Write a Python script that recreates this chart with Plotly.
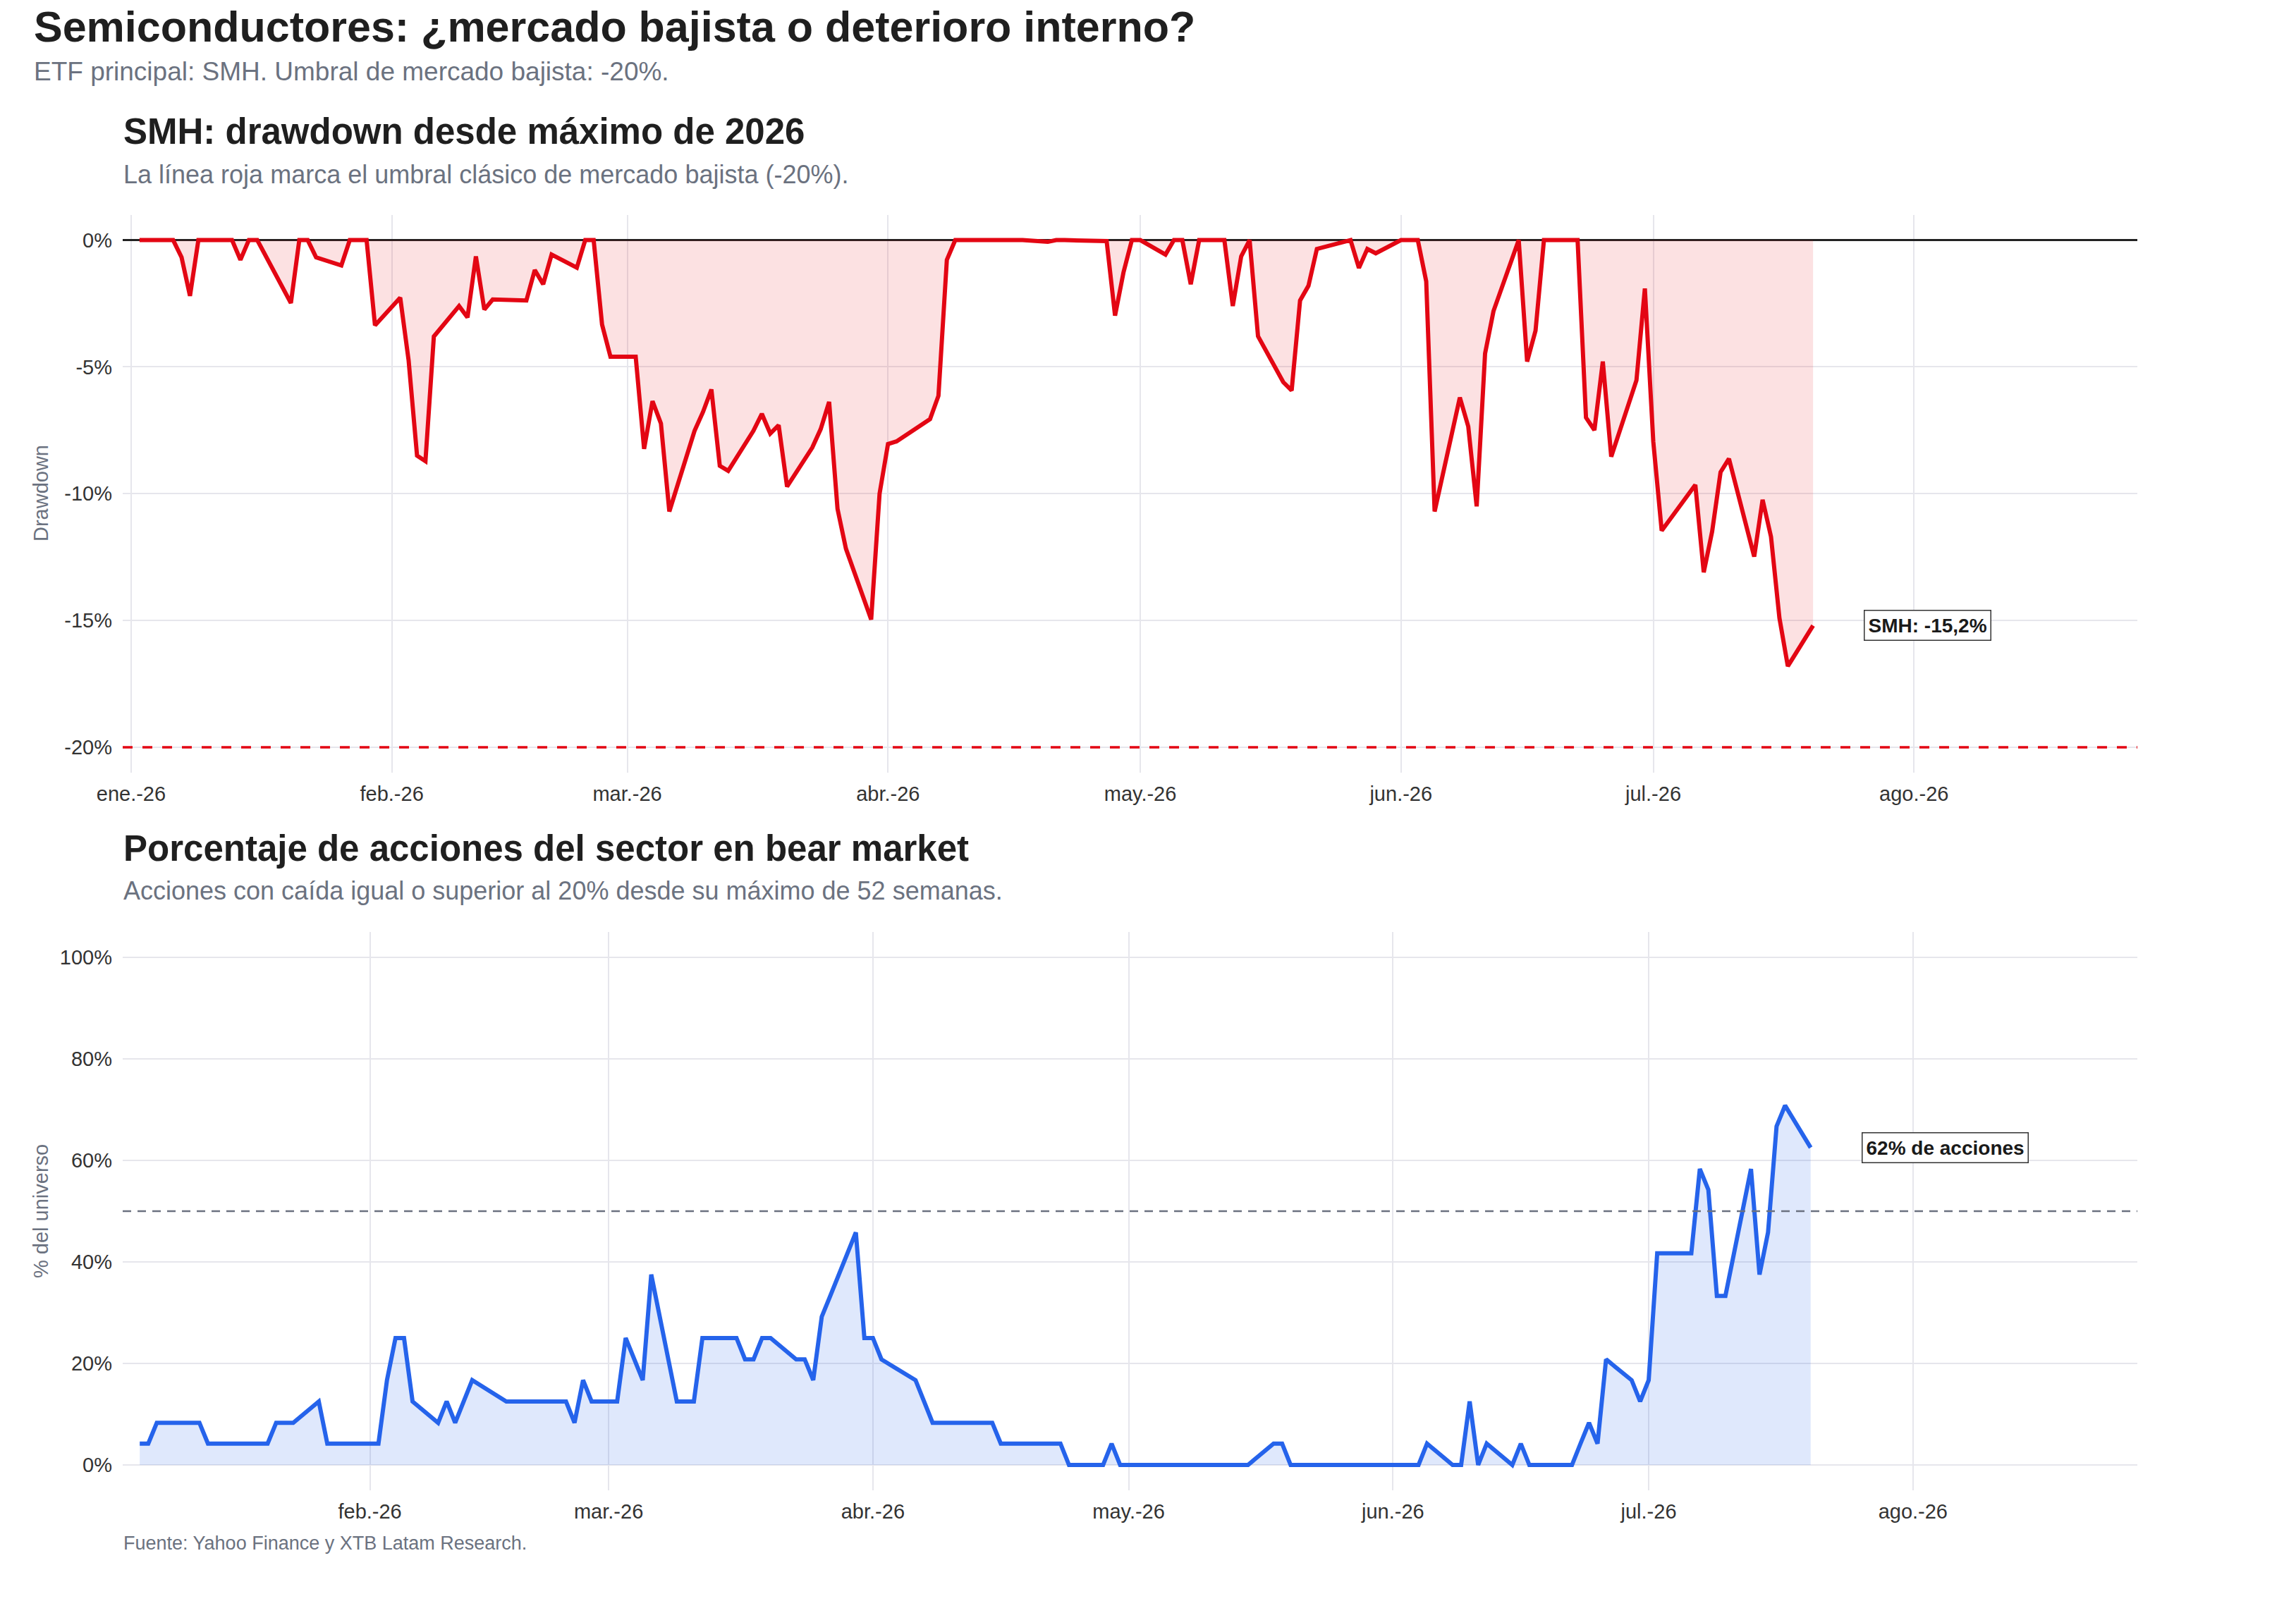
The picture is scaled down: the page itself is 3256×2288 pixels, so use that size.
import plotly.graph_objects as go

# ---------------- data ----------------
smh_dates = [
    "2026-01-02", "2026-01-05", "2026-01-06", "2026-01-07", "2026-01-08", "2026-01-09",
    "2026-01-12", "2026-01-13", "2026-01-14", "2026-01-15", "2026-01-16", "2026-01-20",
    "2026-01-21", "2026-01-22", "2026-01-23", "2026-01-26", "2026-01-27", "2026-01-28",
    "2026-01-29", "2026-01-30", "2026-02-02", "2026-02-03", "2026-02-04", "2026-02-05",
    "2026-02-06", "2026-02-09", "2026-02-10", "2026-02-11", "2026-02-12", "2026-02-13",
    "2026-02-17", "2026-02-18", "2026-02-19", "2026-02-20", "2026-02-23", "2026-02-24",
    "2026-02-25", "2026-02-26", "2026-02-27", "2026-03-02", "2026-03-03", "2026-03-04",
    "2026-03-05", "2026-03-06", "2026-03-09", "2026-03-10", "2026-03-11", "2026-03-12",
    "2026-03-13", "2026-03-16", "2026-03-17", "2026-03-18", "2026-03-19", "2026-03-20",
    "2026-03-23", "2026-03-24", "2026-03-25", "2026-03-26", "2026-03-27", "2026-03-30",
    "2026-03-31", "2026-04-01", "2026-04-02", "2026-04-06", "2026-04-07", "2026-04-08",
    "2026-04-09", "2026-04-10", "2026-04-13", "2026-04-14", "2026-04-15", "2026-04-16",
    "2026-04-17", "2026-04-20", "2026-04-21", "2026-04-22", "2026-04-23", "2026-04-24",
    "2026-04-27", "2026-04-28", "2026-04-29", "2026-04-30", "2026-05-01", "2026-05-04",
    "2026-05-05", "2026-05-06", "2026-05-07", "2026-05-08", "2026-05-11", "2026-05-12",
    "2026-05-13", "2026-05-14", "2026-05-15", "2026-05-18", "2026-05-19", "2026-05-20",
    "2026-05-21", "2026-05-22", "2026-05-26", "2026-05-27", "2026-05-28", "2026-05-29",
    "2026-06-01", "2026-06-02", "2026-06-03", "2026-06-04", "2026-06-05", "2026-06-08",
    "2026-06-09", "2026-06-10", "2026-06-11", "2026-06-12", "2026-06-15", "2026-06-16",
    "2026-06-17", "2026-06-18", "2026-06-22", "2026-06-23", "2026-06-24", "2026-06-25",
    "2026-06-26", "2026-06-29", "2026-06-30", "2026-07-01", "2026-07-02", "2026-07-06",
    "2026-07-07", "2026-07-08", "2026-07-09", "2026-07-10", "2026-07-13", "2026-07-14",
    "2026-07-15", "2026-07-16", "2026-07-17", "2026-07-20",
]
smh_drawdown = [
    0.0, 0.0, 0.0, -0.68, -2.2, 0.0,
    0.0, 0.0, -0.78, 0.0, 0.0, -2.48,
    0.0, 0.0, -0.68, -1.0, 0.0, 0.0,
    0.0, -3.36, -2.27, -4.75, -8.5, -8.72,
    -3.8, -2.6, -3.05, -0.64, -2.74, -2.34,
    -2.38, -1.18, -1.74, -0.57, -1.09, 0.0,
    0.0, -3.33, -4.6, -4.6, -8.23, -6.35,
    -7.23, -10.7, -7.52, -6.78, -5.89, -8.9,
    -9.1, -7.52, -6.85, -7.63, -7.3, -9.72,
    -8.18, -7.45, -6.38, -10.6, -12.17, -14.96,
    -10.0, -8.04, -7.94, -7.06, -6.14, -0.78,
    0.0, 0.0, 0.0, 0.0, 0.0, 0.0,
    0.0, -0.07, 0.0, 0.0, 0.0, 0.0,
    -0.04, -2.98, -1.28, 0.0, 0.0, -0.57,
    0.0, 0.0, -1.74, 0.0, 0.0, -2.6,
    -0.64, 0.0, -3.79, -5.6, -5.93, -2.38,
    -1.8, -0.35, 0.0, -1.1, -0.35, -0.52,
    0.0, 0.0, 0.0, -1.63, -10.7, -6.21,
    -7.35, -10.5, -4.47, -2.8, 0.0, -4.79,
    -3.57, 0.0, 0.0, -7.0, -7.49, -4.79,
    -8.54, -5.53, -1.91, -7.94, -11.46, -9.65,
    -13.1, -11.49, -9.15, -8.62, -12.48, -10.24,
    -11.7, -14.9, -16.8, -15.2,
]

bear_dates = [
    "2026-01-05", "2026-01-06", "2026-01-07", "2026-01-08", "2026-01-09", "2026-01-12",
    "2026-01-13", "2026-01-14", "2026-01-15", "2026-01-16", "2026-01-20", "2026-01-21",
    "2026-01-22", "2026-01-23", "2026-01-26", "2026-01-27", "2026-01-28", "2026-01-29",
    "2026-01-30", "2026-02-02", "2026-02-03", "2026-02-04", "2026-02-05", "2026-02-06",
    "2026-02-09", "2026-02-10", "2026-02-11", "2026-02-12", "2026-02-13", "2026-02-17",
    "2026-02-18", "2026-02-19", "2026-02-20", "2026-02-23", "2026-02-24", "2026-02-25",
    "2026-02-26", "2026-02-27", "2026-03-02", "2026-03-03", "2026-03-04", "2026-03-05",
    "2026-03-06", "2026-03-09", "2026-03-10", "2026-03-11", "2026-03-12", "2026-03-13",
    "2026-03-16", "2026-03-17", "2026-03-18", "2026-03-19", "2026-03-20", "2026-03-23",
    "2026-03-24", "2026-03-25", "2026-03-26", "2026-03-27", "2026-03-30", "2026-03-31",
    "2026-04-01", "2026-04-02", "2026-04-06", "2026-04-07", "2026-04-08", "2026-04-09",
    "2026-04-10", "2026-04-13", "2026-04-14", "2026-04-15", "2026-04-16", "2026-04-17",
    "2026-04-20", "2026-04-21", "2026-04-22", "2026-04-23", "2026-04-24", "2026-04-27",
    "2026-04-28", "2026-04-29", "2026-04-30", "2026-05-01", "2026-05-04", "2026-05-05",
    "2026-05-06", "2026-05-07", "2026-05-08", "2026-05-11", "2026-05-12", "2026-05-13",
    "2026-05-14", "2026-05-15", "2026-05-18", "2026-05-19", "2026-05-20", "2026-05-21",
    "2026-05-22", "2026-05-26", "2026-05-27", "2026-05-28", "2026-05-29", "2026-06-01",
    "2026-06-02", "2026-06-03", "2026-06-04", "2026-06-05", "2026-06-08", "2026-06-09",
    "2026-06-10", "2026-06-11", "2026-06-12", "2026-06-15", "2026-06-16", "2026-06-17",
    "2026-06-18", "2026-06-22", "2026-06-23", "2026-06-24", "2026-06-25", "2026-06-26",
    "2026-06-29", "2026-06-30", "2026-07-01", "2026-07-02", "2026-07-06", "2026-07-07",
    "2026-07-08", "2026-07-09", "2026-07-10", "2026-07-13", "2026-07-14", "2026-07-15",
    "2026-07-16", "2026-07-17", "2026-07-20",
]
bear_pct = [
    4.2, 4.2, 8.3, 8.3, 8.3, 8.3,
    4.2, 4.2, 4.2, 4.2, 4.2, 8.3,
    8.3, 8.3, 12.5, 4.2, 4.2, 4.2,
    4.2, 4.2, 16.7, 25.0, 25.0, 12.5,
    8.3, 12.5, 8.3, 12.5, 16.7, 12.5,
    12.5, 12.5, 12.5, 12.5, 12.5, 8.3,
    16.7, 12.5, 12.5, 25.0, 20.8, 16.7,
    37.5, 12.5, 12.5, 12.5, 25.0, 25.0,
    25.0, 20.8, 20.8, 25.0, 25.0, 20.8,
    20.8, 16.7, 29.2, 33.3, 45.8, 25.0,
    25.0, 20.8, 16.7, 12.5, 8.3, 8.3,
    8.3, 8.3, 8.3, 8.3, 4.2, 4.2,
    4.2, 4.2, 4.2, 4.2, 0.0, 0.0,
    0.0, 4.2, 0.0, 0.0, 0.0, 0.0,
    0.0, 0.0, 0.0, 0.0, 0.0, 0.0,
    0.0, 0.0, 4.2, 4.2, 0.0, 0.0,
    0.0, 0.0, 0.0, 0.0, 0.0, 0.0,
    0.0, 0.0, 0.0, 4.2, 0.0, 0.0,
    12.5, 0.0, 4.2, 0.0, 4.2, 0.0,
    0.0, 0.0, 4.2, 8.3, 4.2, 20.8,
    16.7, 12.5, 16.7, 41.7, 41.7, 58.3,
    54.2, 33.3, 33.3, 58.3, 37.5, 45.8,
    66.7, 70.8, 62.5,
]

top_tick_dates = ["2026-01-01", "2026-02-01", "2026-03-01", "2026-04-01",
                  "2026-05-01", "2026-06-01", "2026-07-01", "2026-08-01"]
top_tick_text = ["ene.-26", "feb.-26", "mar.-26", "abr.-26",
                 "may.-26", "jun.-26", "jul.-26", "ago.-26"]
bottom_tick_dates = top_tick_dates[1:]
bottom_tick_text = top_tick_text[1:]

dd_ticks = [0, -5, -10, -15, -20]
dd_tick_text = ["0%", "-5%", "-10%", "-15%", "-20%"]
pct_ticks = [0, 20, 40, 60, 80, 100]
pct_tick_text = ["0%", "20%", "40%", "60%", "80%", "100%"]

bear_threshold = -20
majority_line = 50

# ---------------- style ----------------
W, H = 3256, 2288
FONT = "Liberation Sans, Arial, Helvetica, sans-serif"
RED = "#E30613"
RED_FILL = "rgba(227,6,19,0.12)"
BLUE = "#2563EB"
BLUE_FILL = "rgba(37,99,235,0.15)"
GRID = "#E6E6EC"
TITLE_C = "#1F1F1F"
SUB_C = "#6B7280"
TICK_C = "#333333"


def px_x(x):
    return x / W


def px_y(y):
    return 1 - y / H


X_DOMAIN = [px_x(174), px_x(3031)]
TOP_DOMAIN = [px_y(1096), px_y(304.6)]
BOT_DOMAIN = [px_y(2114), px_y(1321.8)]

fig = go.Figure()
fig.add_trace(go.Scatter(
    x=smh_dates, y=smh_drawdown, mode="lines",
    line=dict(color=RED, width=6), fill="tozeroy", fillcolor=RED_FILL,
    xaxis="x", yaxis="y", hoverinfo="skip", showlegend=False,
))
fig.add_trace(go.Scatter(
    x=bear_dates, y=bear_pct, mode="lines",
    line=dict(color=BLUE, width=6), fill="tozeroy", fillcolor=BLUE_FILL,
    xaxis="x2", yaxis="y2", hoverinfo="skip", showlegend=False,
))

axis_common = dict(
    showgrid=True, gridcolor=GRID, gridwidth=2, showline=False,
    automargin=False, ticks="",
    tickfont=dict(family=FONT, size=29, color=TICK_C),
)

fig.update_layout(
    width=W, height=H,
    margin=dict(l=0, r=0, t=0, b=0, pad=0, autoexpand=False),
    paper_bgcolor="white", plot_bgcolor="white",
    font=dict(family=FONT),
    xaxis=dict(domain=X_DOMAIN, anchor="y", type="date",
               range=["2025-12-31", "2026-08-27 13:26"],
               tickvals=top_tick_dates, ticktext=top_tick_text,
               ticklabelstandoff=10, zeroline=False, **axis_common),
    yaxis=dict(domain=TOP_DOMAIN, anchor="x", range=[-21, 1],
               tickvals=dd_ticks, ticktext=dd_tick_text,
               zeroline=True, zerolinecolor="#222222", zerolinewidth=2.5,
               ticklabelstandoff=14, **axis_common),
    xaxis2=dict(domain=X_DOMAIN, anchor="y2", type="date",
                range=["2026-01-03", "2026-08-27 07:40"],
                tickvals=bottom_tick_dates, ticktext=bottom_tick_text,
                ticklabelstandoff=10, zeroline=False, **axis_common),
    yaxis2=dict(domain=BOT_DOMAIN, anchor="x2", range=[-5, 105],
                tickvals=pct_ticks, ticktext=pct_tick_text,
                zeroline=False, ticklabelstandoff=14, **axis_common),
)

shapes = [
    dict(type="line", xref="x domain", yref="y", x0=0, x1=1,
         y0=bear_threshold, y1=bear_threshold,
         line=dict(color=RED, width=3.5, dash="14px,14px"), layer="above"),
    dict(type="line", xref="x2 domain", yref="y2", x0=0, x1=1,
         y0=majority_line, y1=majority_line,
         line=dict(color="#6B7280", width=2.5, dash="12px,9px"), layer="above"),
]
fig.update_layout(shapes=shapes)

ann = []


def text_ann(text, x_px, base_px, size, color, bold=False):
    t = f"<b>{text}</b>" if bold else text
    ann.append(dict(
        text=t, xref="paper", yref="paper", x=px_x(x_px),
        y=px_y(base_px - 0.355 * size), xanchor="left", yanchor="middle",
        showarrow=False, font=dict(family=FONT, size=size, color=color),
    ))


text_ann("Semiconductores: ¿mercado bajista o deterioro interno?", 46, 60, 61, TITLE_C, True)
text_ann("ETF principal: SMH. Umbral de mercado bajista: -20%.", 46, 115, 37, SUB_C)
text_ann("SMH: drawdown desde máximo de 2026", 173, 205, 51, TITLE_C, True)
text_ann("La línea roja marca el umbral clásico de mercado bajista (-20%).", 173, 260, 36, SUB_C)
text_ann("Porcentaje de acciones del sector en bear market", 173, 1221.7, 51, TITLE_C, True)
text_ann("Acciones con caída igual o superior al 20% desde su máximo de 52 semanas.", 173, 1276.7, 36, SUB_C)
text_ann("Fuente: Yahoo Finance y XTB Latam Research.", 173, 2199, 27, SUB_C)

# axis titles
ann.append(dict(text="Drawdown", xref="paper", yref="paper", x=px_x(58), y=px_y(700),
                textangle=-90, showarrow=False, xanchor="center", yanchor="middle",
                font=dict(family=FONT, size=29, color=SUB_C)))
ann.append(dict(text="% del universo", xref="paper", yref="paper", x=px_x(58), y=px_y(1718),
                textangle=-90, showarrow=False, xanchor="center", yanchor="middle",
                font=dict(family=FONT, size=29, color=SUB_C)))

# end labels
last_dd = smh_drawdown[-1]
last_pct = bear_pct[-1]
smh_label = "SMH: " + f"{last_dd:.1f}".replace(".", ",") + "%"
pct_label = f"{round(last_pct)}% de acciones"
label_style = dict(showarrow=False, xanchor="left", yanchor="middle",
                   bgcolor="white", bordercolor="#333333", borderwidth=1.5, borderpad=5,
                   font=dict(family=FONT, size=28, color="#1A1A1A"))
ann.append(dict(text=f"<b>{smh_label}</b>", xref="x", yref="y",
                x="2026-07-26", y=last_dd, **label_style))
ann.append(dict(text=f"<b>{pct_label}</b>", xref="x2", yref="y2",
                x="2026-07-26", y=last_pct, **label_style))

fig.update_layout(annotations=ann)

fig.write_html("out.html")
